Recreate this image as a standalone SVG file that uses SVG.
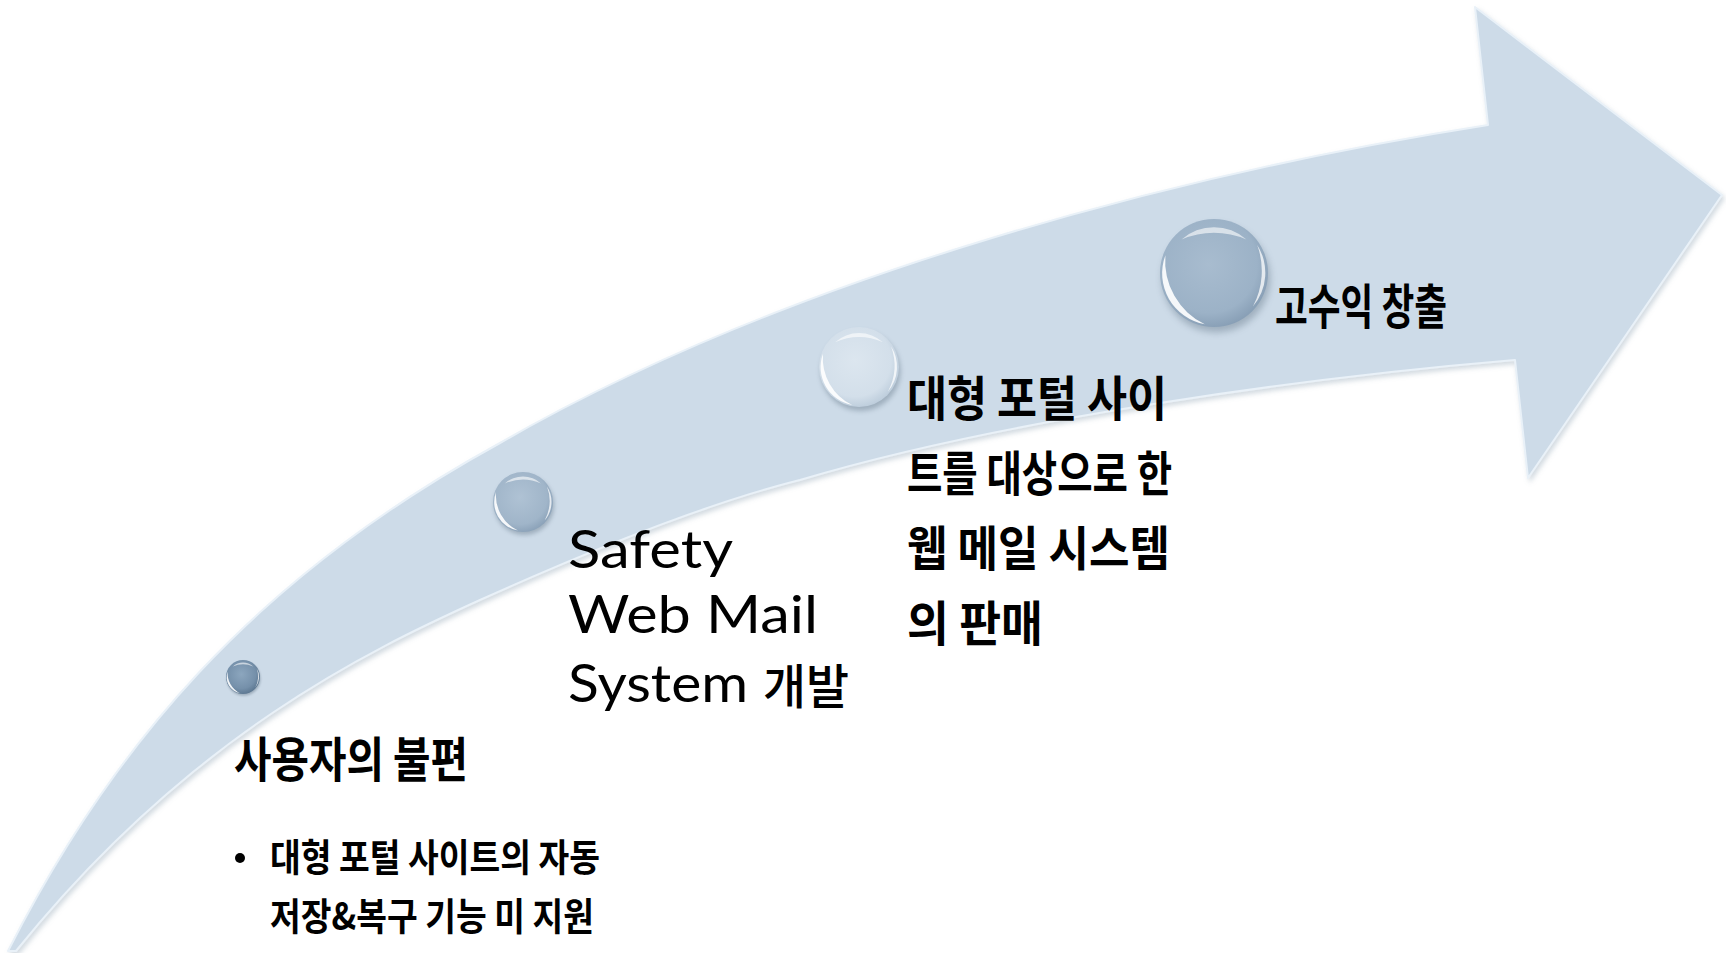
<svg xmlns="http://www.w3.org/2000/svg" width="1726" height="953" viewBox="0 0 1726 953">
<defs>
<style>
.ko{font-family:"Noto Sans CJK KR","Noto Sans CJK SC",sans-serif;font-weight:700;fill:#000}
.ko2{font-family:"Noto Sans CJK KR","Noto Sans CJK SC",sans-serif;font-weight:500;fill:#000}
.en{font-family:Lato,"Liberation Sans",sans-serif;font-weight:400;fill:#000}
.gl{fill:#fff}
</style>
<filter id="arrowShadow" x="-5%" y="-5%" width="110%" height="110%">
<feDropShadow dx="2" dy="3" stdDeviation="2.5" flood-color="#7f94a8" flood-opacity="0.35"/>
</filter>
<filter id="sblur" x="-50%" y="-50%" width="200%" height="200%">
<feGaussianBlur stdDeviation="0.07"/>
</filter>
<radialGradient id="gSmall" cx="0.45" cy="0.42" r="0.6">
<stop offset="0" stop-color="#8CA6BE"/><stop offset="0.7" stop-color="#7590AA"/><stop offset="1" stop-color="#5B7690"/>
</radialGradient>
<radialGradient id="gMid" cx="0.45" cy="0.42" r="0.6">
<stop offset="0" stop-color="#AFC2D4"/><stop offset="0.75" stop-color="#A0B5C9"/><stop offset="1" stop-color="#8AA1B8"/>
</radialGradient>
<radialGradient id="gLight" cx="0.45" cy="0.42" r="0.6">
<stop offset="0" stop-color="#DCE6EF"/><stop offset="0.75" stop-color="#D3DFEA"/><stop offset="1" stop-color="#BCCCDB"/>
</radialGradient>
<radialGradient id="gBig" cx="0.45" cy="0.42" r="0.6">
<stop offset="0" stop-color="#A8BCCF"/><stop offset="0.75" stop-color="#9CB2C7"/><stop offset="1" stop-color="#879EB5"/>
</radialGradient>
<g id="gloss">
<path class="gl" opacity="0.9" d="M -0.90,-0.33 A 0.96 0.96 0 0 0 -0.17,0.95 A 1.3 1.3 0 0 1 -0.90,-0.33 Z"/>
<path class="gl" opacity="0.6" d="M -0.6,-0.62 A 0.9 0.9 0 0 1 0.6,-0.62 A 1.5 1.5 0 0 0 -0.6,-0.62 Z"/>
<path class="gl" opacity="0.75" d="M 0.80,-0.52 A 0.96 0.96 0 0 1 0.72,0.62 A 1.4 1.4 0 0 0 0.80,-0.52 Z"/>
</g>
<ellipse id="shade" cx="0.04" cy="0.1" rx="1" ry="1" fill="#4a5d70" opacity="0.35" filter="url(#sblur)"/>
</defs>

<rect width="1726" height="953" fill="#fff"/>

<g id="arrow">
<path filter="url(#arrowShadow)" fill="#CDDBE8" stroke="#E9F1F8" stroke-width="2" stroke-linejoin="round"
 d="M 8,951 C 110,750 250,580 500,443 C 800,270 1200,170 1488,125 L 1475,7 L 1722,195 L 1528,478 L 1515,360 C 1300,378 1000,420 800,480 C 700,505 580,555 480,600 C 370,650 190,735 16,951 Z"/>
</g>

<g id="sphere1" transform="translate(243,677) scale(17)">
<use href="#shade"/><circle r="1" fill="url(#gSmall)"/><use href="#gloss"/>
</g>
<g id="sphere2" transform="translate(523,502) scale(30)">
<use href="#shade"/><circle r="1" fill="url(#gMid)"/><use href="#gloss"/>
</g>
<g id="sphere3" transform="translate(859,367) scale(40)">
<use href="#shade"/><circle r="1" fill="url(#gLight)"/><use href="#gloss"/>
</g>
<g id="sphere4" transform="translate(1214,273) scale(54)">
<use href="#shade"/><circle r="1" fill="url(#gBig)"/><use href="#gloss"/>
</g>

<g id="label-step1">
<text class="ko" x="234" y="777" font-size="48" textLength="234" lengthAdjust="spacingAndGlyphs">사용자의 불편</text>
<circle cx="240" cy="858" r="5" fill="#000"/>
<text class="ko" x="270" y="871" font-size="38" textLength="330" lengthAdjust="spacingAndGlyphs">대형 포털 사이트의 자동</text>
<text class="ko" x="270" y="930" font-size="38" textLength="324" lengthAdjust="spacingAndGlyphs">저장&amp;복구 기능 미 지원</text>
</g>

<g id="label-step2">
<text class="en" x="568" y="568" font-size="52" textLength="165" lengthAdjust="spacingAndGlyphs">Safety</text>
<text class="en" x="568" y="633" font-size="52" textLength="250" lengthAdjust="spacingAndGlyphs">Web Mail</text>
<text class="en" x="568" y="702" font-size="52" textLength="180" lengthAdjust="spacingAndGlyphs">System</text>
<text class="ko2" x="763" y="704" font-size="48" textLength="86" lengthAdjust="spacingAndGlyphs">개발</text>
</g>

<g id="label-step3">
<text class="ko" x="907" y="416" font-size="48" textLength="260" lengthAdjust="spacingAndGlyphs">대형 포털 사이</text>
<text class="ko" x="907" y="491" font-size="48" textLength="265" lengthAdjust="spacingAndGlyphs">트를 대상으로 한</text>
<text class="ko" x="907" y="566" font-size="48" textLength="263" lengthAdjust="spacingAndGlyphs">웹 메일 시스템</text>
<text class="ko" x="907" y="641" font-size="48" textLength="136" lengthAdjust="spacingAndGlyphs">의 판매</text>
</g>

<g id="label-step4">
<text class="ko" x="1275" y="324" font-size="48" textLength="172" lengthAdjust="spacingAndGlyphs">고수익 창출</text>
</g>
</svg>
